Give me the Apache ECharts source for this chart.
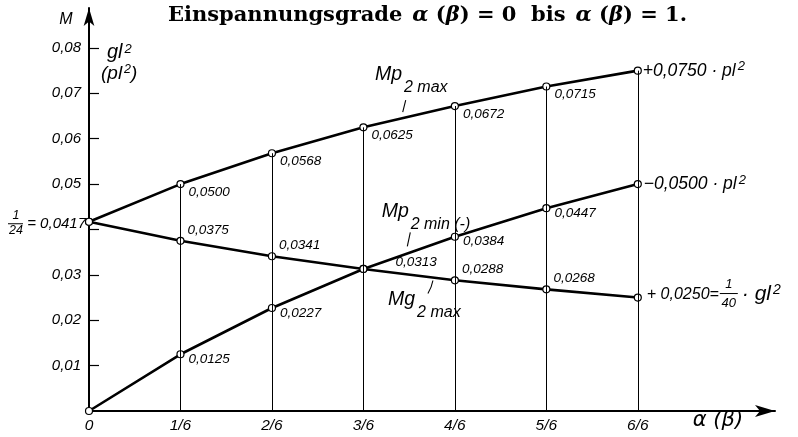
<!DOCTYPE html>
<html><head><meta charset="utf-8">
<script src="https://cdn.jsdelivr.net/npm/echarts@6/dist/echarts.min.js"></script>
<style>html,body{margin:0;padding:0;background:#fff}#c{width:798px;height:437px}</style>
</head><body><div id="c"></div>
<script>
// Degree of fixity α(β) in sixths, and the moment coefficients for each step
const alphaSteps = [0, 1, 2, 3, 4, 5, 6];
const alphaLabels = ['0', '1/6', '2/6', '3/6', '4/6', '5/6', '6/6'];
const yTickValues = [0.01, 0.02, 0.03, 0.04, 0.05, 0.06, 0.07, 0.08];
const yLabelValues = [0.01, 0.02, 0.03, 0.05, 0.06, 0.07, 0.08];
const mp2Max = [0.0417, 0.0500, 0.0568, 0.0625, 0.0672, 0.0715, 0.0750];
const mp2Min = [0.0000, 0.0125, 0.0227, 0.0313, 0.0384, 0.0447, 0.0500];
const mg2Max = [0.0417, 0.0375, 0.0341, 0.0313, 0.0288, 0.0268, 0.0250];

const SANS = "'Liberation Sans', Arial, sans-serif";
const SERIF = "'DejaVu Serif', 'Liberation Serif', serif";
const fmt4 = v => v.toFixed(4).replace('.', ',');
const fmt2 = v => v.toFixed(2).replace('.', ',');

const lblBase = { fontFamily: SANS, fontStyle: 'italic', fontSize: 13.5, color: '#000' };

// build point list with per-point value labels (first and last points get no inline label)
function pointsOf(values, offset, skip) {
  return values.map((v, i) => ({
    value: [alphaSteps[i], v],
    label: {
      show: i > 0 && i < values.length - 1 && !(skip || []).includes(i),
      position: 'right', distance: 0, offset: offset(i),
      align: 'left', verticalAlign: 'middle',
      formatter: () => fmt4(v), ...lblBase
    }
  }));
}

const lineSeries = (name, values, offset, skip) => ({
  name, type: 'line', z: 3,
  data: pointsOf(values, offset, skip),
  symbol: 'circle', symbolSize: 7, showSymbol: true,
  itemStyle: { color: '#fff', borderColor: '#000', borderWidth: 1.2 },
  lineStyle: { color: '#000', width: 2.6 },
  emphasis: { disabled: true }, animation: false
});

// vertical ordinates from the abscissa up to the highest curve at each step
const stems = alphaSteps.slice(1).map(i => {
  const top = Math.max(mp2Max[i], mp2Min[i], mg2Max[i]);
  return [{ coord: [i, 0] }, { coord: [i, top] }];
});

const chart = echarts.init(document.getElementById('c'), null, { renderer: 'canvas' });
chart.setOption({
  backgroundColor: '#fff',
  animation: false,
  title: {
    left: 163, top: 0,
    text: '{b|Einspannungsgrade}  {m|α}{b| (}{m|β}{b|) = 0  bis}  {m|α}{b| (}{m|β}{b|) = 1.}',
    textStyle: {
      rich: {
        b: { fontFamily: SERIF, fontWeight: 'bold', fontSize: 21, color: '#000' },
        m: { fontFamily: SERIF, fontStyle: 'italic', fontSize: 21, color: '#000' }
      }
    }
  },
  grid: { left: 89, right: 23, top: 8, bottom: 26 },
  xAxis: {
    type: 'value', min: 0, max: 7.5,
    axisLine: { show: true, onZero: false, symbol: ['none', 'arrow'], symbolSize: [9, 20], lineStyle: { color: '#000', width: 2 } },
    axisTick: { show: false },
    splitLine: { show: false },
    axisLabel: {
      customValues: alphaSteps, margin: 7,
      formatter: v => alphaLabels[Math.round(v)] || '',
      fontFamily: SANS, fontStyle: 'italic', fontSize: 15.5, color: '#000'
    }
  },
  yAxis: {
    type: 'value', min: 0, max: 0.0888,
    axisLine: { show: true, onZero: false, symbol: ['none', 'arrow'], symbolSize: [8, 18], lineStyle: { color: '#000', width: 2 } },
    axisTick: { show: true, customValues: yTickValues, inside: true, length: 10, lineStyle: { color: '#000', width: 1.2 } },
    splitLine: { show: false },
    axisLabel: {
      customValues: yLabelValues, margin: 8,
      formatter: v => fmt2(v),
      fontFamily: SANS, fontStyle: 'italic', fontSize: 15, color: '#000'
    }
  },
  series: [
    {
      type: 'line', z: 1, data: [], silent: true,
      markLine: {
        silent: true, symbol: ['none', 'none'], animation: false,
        label: { show: false },
        lineStyle: { color: '#000', width: 1, type: 'solid' },
        emphasis: { disabled: true },
        data: stems
      }
    },
    lineSeries('Mp2 max', mp2Max, () => [4, 8]),
    lineSeries('Mg2 max', mg2Max, () => [3, -11], [3]),
    lineSeries('Mp2 min', mp2Min, i => (i === 3 ? [28, -7] : [4, 5]))
  ]
});

// text annotations anchored in data coordinates
function annotate() {
  const P = (x, y) => chart.convertToPixel({ gridIndex: 0 }, [x, y]);
  const it = (size) => ({ fontFamily: SANS, fontStyle: 'italic', fontSize: size, fill: '#000' });
  const txt = (x, y, text, size, align, extra) => ({
    type: 'text', x, y, silent: true,
    style: { text, ...it(size), align: align || 'left', verticalAlign: 'middle', ...(extra || {}) }
  });
  const seg = (x1, y1, x2, y2, w) => ({
    type: 'line', silent: true, shape: { x1, y1, x2, y2 },
    style: { stroke: '#000', lineWidth: w || 1.2 }
  });
  const supRich = (sz) => ({ rich: { s: { ...it(sz), fill: '#000', verticalAlign: 'top', padding: [0, 0, 8, 2] } } });
  const g = [];

  // ordinate at α = 0: 1/24 = 0,0417
  const o = P(0, mg2Max[0]);
  g.push(txt(o[0] - 3, o[1] + 2, '= ' + fmt4(mg2Max[0]), 15, 'right'));
  g.push(txt(o[0] - 73, o[1] - 6, '1', 12.5, 'center'));
  g.push(seg(o[0] - 81, o[1] + 2, o[0] - 66, o[1] + 2, 1));
  g.push(txt(o[0] - 73, o[1] + 9, '24', 12.5, 'center'));

  // axis names
  const top = P(0, 0.0888);
  g.push(txt(top[0] - 23, top[1] + 12, 'M', 16, 'center'));
  const y8 = P(0, 0.08);
  g.push({ type: 'text', x: y8[0] + 18, y: y8[1] + 5, silent: true,
    style: { text: 'gl{s|2}', ...it(20), verticalAlign: 'middle', ...supRich(13) } });
  g.push({ type: 'text', x: y8[0] + 12, y: y8[1] + 26, silent: true,
    style: { text: '(pl{s|2})', ...it(19), verticalAlign: 'middle', ...supRich(12.5) } });
  const xEnd = P(7.5, 0);
  g.push(txt(xEnd[0] - 57, xEnd[1] + 10, 'α (β)', 21, 'center', { fontFamily: "'DejaVu Sans', sans-serif" }));

  // end values at α = 1
  const e1 = P(6, mp2Max[6]);
  g.push({ type: 'text', x: e1[0] + 5, y: e1[1], silent: true,
    style: { text: '+' + fmt4(mp2Max[6]) + ' · pl{s|2}', ...it(17.5), verticalAlign: 'middle', ...supRich(13) } });
  const e2 = P(6, mp2Min[6]);
  g.push({ type: 'text', x: e2[0] + 6, y: e2[1], silent: true,
    style: { text: '−' + fmt4(mp2Min[6]) + ' · pl{s|2}', ...it(17.5), verticalAlign: 'middle', ...supRich(13) } });
  const e3 = P(6, mg2Max[6]);
  g.push(txt(e3[0] + 9, e3[1] - 3, '+ ' + fmt4(mg2Max[6]) + '=', 16));
  g.push(txt(e3[0] + 91, e3[1] - 13, '1', 13, 'center'));
  g.push(seg(e3[0] + 82, e3[1] - 4, e3[0] + 100, e3[1] - 4, 1));
  g.push(txt(e3[0] + 91, e3[1] + 6, '40', 13, 'center'));
  g.push({ type: 'text', x: e3[0] + 104, y: e3[1] - 3, silent: true,
    style: { text: '· gl{s|2}', ...it(21), verticalAlign: 'middle', ...supRich(14) } });

  // curve names with leader strokes
  const name = (x, y, main, sub) => {
    g.push(txt(x, y, main, 19.5));
    g.push(txt(x + 29, y + 13, sub, 16));
  };
  const a = P(3.127, 0.0741);
  name(a[0], a[1], 'Mp', '2 max');
  const b1 = P(3.43, 0.0672);
  g.push(seg(b1[0], b1[1] + 6, b1[0] + 3, b1[1] - 6, 1.1));

  const c = P(3.2, 0.0440);
  name(c[0], c[1], 'Mp', '2 min (-)');
  const c1 = P(3.48, 0.0378);
  g.push(seg(c1[0], c1[1] + 7, c1[0] + 3, c1[1] - 7, 1.1));

  const d = P(3.27, 0.0246);
  name(d[0], d[1], 'Mg', '2 max');
  const d1 = P(3.76, 0.0292);
  g.push({ type: 'bezierCurve', silent: true,
    shape: { x1: d1[0], y1: d1[1] + 2, cpx1: d1[0] - 1, cpy1: d1[1] + 8, x2: d1[0] - 5, y2: d1[1] + 15 },
    style: { stroke: '#000', lineWidth: 1.1, fill: 'none' } });

  chart.setOption({ graphic: g });
}
annotate();
</script>
</body></html>
